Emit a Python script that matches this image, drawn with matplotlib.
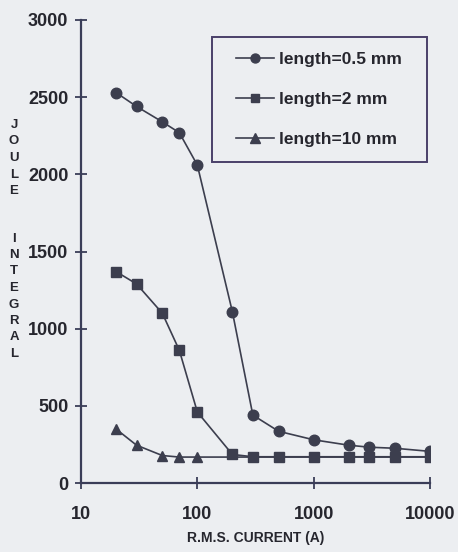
import matplotlib
matplotlib.use("Agg")
import matplotlib.pyplot as plt
from matplotlib.patches import Rectangle
import numpy as np

# ---- data ----
current_05 = [20, 30, 50, 70, 100, 200, 300, 500, 1000, 2000, 3000, 5000, 10000]
joule_05 = [2530, 2440, 2340, 2270, 2060, 1110, 440, 335, 280, 245, 232, 225, 205]

current_2 = [20, 30, 50, 70, 100, 200, 300, 500, 1000, 2000, 3000, 5000, 10000]
joule_2 = [1370, 1290, 1100, 860, 460, 185, 170, 170, 170, 170, 170, 170, 170]

current_10 = [20, 30, 50, 70, 100, 200, 300, 500, 1000, 2000, 3000, 5000, 10000]
joule_10 = [350, 245, 178, 168, 168, 168, 168, 168, 168, 168, 168, 168, 168]

labels = ["length=0.5 mm", "length=2 mm", "length=10 mm"]
y_ticks = [0, 500, 1000, 1500, 2000, 2500, 3000]
x_ticks = [10, 100, 1000, 10000]
x_tick_labels = ["10", "100", "1000", "10000"]
xlabel = "R.M.S. CURRENT (A)"
ylabel_words = ["JOULE", "INTEGRAL"]

plt.rcParams['font.family'] = ['Liberation Sans', 'DejaVu Sans']

bg = '#eceef1'
mark = '#3c3e4e'
axc = '#3a3d58'
txt = '#26262e'

fig = plt.figure(figsize=(4.58, 5.52), dpi=100, facecolor=bg)
ax = fig.add_axes([81/458, 1-483/552, (430-81)/458, (483-20)/552])
ax.set_facecolor(bg)

ms = 7.2
l10, = ax.plot(current_10, joule_10, color=mark, lw=1.2, marker='^', ms=ms+0.6,
               markevery=list(range(5)), zorder=3)
l2, = ax.plot(current_2, joule_2, color=mark, lw=1.2, marker='s', ms=ms, zorder=4)
l05, = ax.plot(current_05, joule_05, color=mark, lw=1.2, marker='o', ms=ms+0.4, zorder=5)

ax.set_xscale('log')
ax.set_xlim(10, 10000)
ax.set_ylim(0, 3000)
ax.set_xticks(x_ticks)
ax.set_xticklabels(x_tick_labels)
ax.set_yticks(y_ticks)
ax.xaxis.set_minor_locator(matplotlib.ticker.NullLocator())

for s in ['top', 'right']:
    ax.spines[s].set_visible(False)
for s in ['left', 'bottom']:
    ax.spines[s].set_color(axc)
    ax.spines[s].set_linewidth(1.6)
ax.spines['left'].set_zorder(6)

ax.tick_params(axis='y', direction='inout', length=8, width=1.3, color=axc,
               pad=5, labelsize=13, labelcolor=txt)
ax.tick_params(axis='x', direction='inout', length=9, width=1.3, color=axc,
               pad=12, labelsize=13, labelcolor=txt)
for lab in ax.get_xticklabels() + ax.get_yticklabels():
    lab.set_fontweight('bold')

ax.set_xlabel(xlabel, fontsize=10, fontweight='bold', color=txt, labelpad=6)

# vertical stacked y-label
y = 125
step = 16.5
for w in ylabel_words:
    for ch in w:
        fig.text(14/458, 1 - y/552, ch, ha='center', va='center',
                 fontsize=9.5, fontweight='bold', color=txt)
        y += step
    y += 31

# legend frame drawn manually
def ax_x(px):
    return (px - 81) / 349
def ax_y(py):
    return 1 - (py - 20) / 463

frame = Rectangle((ax_x(212), ax_y(162)), ax_x(427) - ax_x(212), ax_y(37) - ax_y(162),
                  transform=ax.transAxes, facecolor=bg, edgecolor='#4a406a',
                  linewidth=1.4, zorder=7)
ax.add_patch(frame)

leg = ax.legend([l05, l2, l10], labels, loc='upper left',
                bbox_to_anchor=(ax_x(236), ax_y(52)), frameon=False,
                fontsize=12.5, handlelength=2.2, handletextpad=0.25,
                labelspacing=1.42, borderpad=0, borderaxespad=0, markerscale=0.85)
leg.set_zorder(8)
for t in leg.get_texts():
    t.set_color(txt)
    t.set_fontweight('bold')

fig.savefig('out.png', dpi=100, facecolor=bg)
